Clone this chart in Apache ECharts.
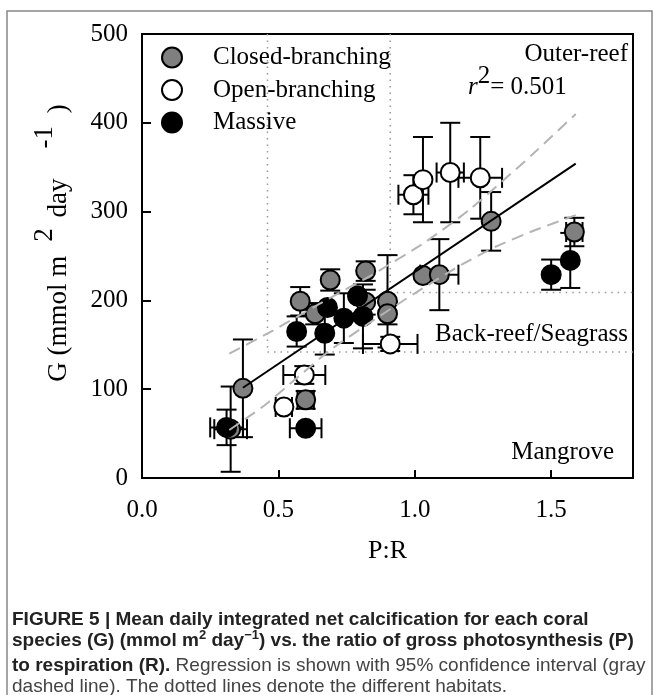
<!DOCTYPE html>
<html>
<head>
<meta charset="utf-8">
<script src="https://cdn.jsdelivr.net/npm/echarts@6/dist/echarts.min.js"></script>
<style>
  html, body { margin: 0; padding: 0; background: #fff; }
  #main { width: 654px; height: 695px; }
</style>
</head>
<body>
<div id="main"></div>
<script>
// rows: [P:R, G, yErr, xErr]
var closedBranching = [
  [0.325, 55, 48, 0.06],
  [0.37, 101, 55, 0],
  [0.58, 199, 16, 0],
  [0.60, 88, 10, 0.03],
  [0.635, 185, 12, 0],
  [0.69, 223, 12, 0],
  [0.82, 233, 11, 0],
  [0.82, 198, 14, 0],
  [0.90, 199, 52, 0],
  [0.90, 185, 12, 0],
  [1.03, 228, 0, 0],
  [1.09, 229, 40, 0.07],
  [1.28, 289, 33, 0],
  [1.585, 277, 16, 0.03]
];
var openBranching = [
  [0.52, 80, 0, 0.03],
  [0.595, 116, 10, 0.077],
  [0.91, 151, 8, 0.1],
  [0.995, 319, 22, 0.055],
  [1.03, 336, 48, 0],
  [1.13, 344, 56, 0.05],
  [1.24, 338, 46, 0.08]
];
var massive = [
  [0.31, 57, 20, 0.06],
  [0.60, 56, 0, 0.058],
  [0.567, 165, 17, 0],
  [0.67, 163, 24, 0],
  [0.68, 192, 0, 0],
  [0.74, 180, 28, 0],
  [0.81, 182, 36, 0],
  [0.79, 205, 0, 0],
  [1.50, 229, 17, 0],
  [1.57, 245, 31, 0]
];

// regression and 95% CI
var regLine = [[0.37, 101.6], [1.59, 354]];
var ciUpper = [[0.32, 140], [0.48, 166], [0.65, 196], [0.85, 230], [1.04, 266], [1.2, 302], [1.43, 364], [1.59, 410]];
var ciLower = [[0.32, 54], [0.45, 82], [0.55, 108], [0.69, 144], [0.85, 178], [1.0, 208], [1.17, 240], [1.3, 261], [1.44, 279], [1.59, 296]];

// habitat boundaries (dotted)
var habitatLines = [
  [[0.46, 500], [0.46, 142]],
  [[0.46, 142], [1.8, 142]],
  [[0.91, 500], [0.91, 209]],
  [[0.91, 209], [1.8, 209]]
];

var xTicks = [0, 0.5, 1.0, 1.5];
var yTicks = [0, 100, 200, 300, 400, 500];

var serif = '"Liberation Serif", "Times New Roman", serif';
var sans = '"Liberation Sans", Arial, sans-serif';

function errorBars(rows, name) {
  return {
    type: 'custom',
    name: name + ' err',
    silent: true,
    z: 2,
    data: rows,
    encode: { x: 0, y: 1 },
    renderItem: function (params, api) {
      var x = api.value(0), y = api.value(1), ey = api.value(2), ex = api.value(3);
      var c = api.coord([x, y]);
      var kids = [];
      var st = { stroke: '#000', lineWidth: 2 };
      var cap = 10;
      if (ey > 0) {
        var top = api.coord([x, y + ey]), bot = api.coord([x, y - ey]);
        kids.push({ type: 'line', shape: { x1: c[0], y1: top[1], x2: c[0], y2: bot[1] }, style: st });
        kids.push({ type: 'line', shape: { x1: c[0] - cap, y1: top[1], x2: c[0] + cap, y2: top[1] }, style: st });
        kids.push({ type: 'line', shape: { x1: c[0] - cap, y1: bot[1], x2: c[0] + cap, y2: bot[1] }, style: st });
      }
      if (ex > 0) {
        var l = api.coord([x - ex, y]), r = api.coord([x + ex, y]);
        kids.push({ type: 'line', shape: { x1: l[0], y1: c[1], x2: r[0], y2: c[1] }, style: st });
        kids.push({ type: 'line', shape: { x1: l[0], y1: c[1] - cap, x2: l[0], y2: c[1] + cap }, style: st });
        kids.push({ type: 'line', shape: { x1: r[0], y1: c[1] - cap, x2: r[0], y2: c[1] + cap }, style: st });
      }
      return { type: 'group', children: kids };
    }
  };
}

function points(rows, name, fill) {
  return {
    type: 'scatter',
    name: name,
    z: 3,
    symbol: 'circle',
    symbolSize: 19,
    data: rows.map(function (r) { return [r[0], r[1]]; }),
    itemStyle: { color: fill, borderColor: '#000', borderWidth: 2, opacity: 1 },
    emphasis: { disabled: true }
  };
}

var series = [];
habitatLines.forEach(function (seg) {
  series.push({
    type: 'line', data: seg, symbol: 'none', silent: true, z: 1,
    lineStyle: { color: '#999', width: 1.5, type: [1.5, 5] }
  });
});
series.push(errorBars(closedBranching, 'Closed-branching'));
series.push(errorBars(openBranching, 'Open-branching'));
series.push(errorBars(massive, 'Massive'));
series.push(points(closedBranching, 'Closed-branching', '#7f7f7f'));
series.push(points(massive, 'Massive', '#000'));
series.push(points(openBranching, 'Open-branching', '#fff'));
series.push({
  type: 'line', data: ciUpper, symbol: 'none', silent: true, z: 4, smooth: 0.2,
  lineStyle: { color: '#b4b4b4', width: 2, type: [12, 7] }
});
series.push({
  type: 'line', data: ciLower, symbol: 'none', silent: true, z: 4, smooth: 0.2,
  lineStyle: { color: '#b4b4b4', width: 2, type: [12, 7] }
});
series.push({
  type: 'line', data: regLine, symbol: 'none', silent: true, z: 4,
  lineStyle: { color: '#000', width: 2 }
});

var chart = echarts.init(document.getElementById('main'));
chart.setOption({
  animation: false,
  backgroundColor: '#fff',
  grid: { left: 142, top: 34, width: 491, height: 444, show: true, borderColor: '#000', borderWidth: 2 },
  legend: {
    data: ['Closed-branching', 'Open-branching', 'Massive'],
    orient: 'vertical',
    left: 156, top: 40,
    itemWidth: 20, itemHeight: 20, itemGap: 7.5,
    icon: 'circle',
    selectedMode: false,
    textStyle: { fontFamily: serif, fontSize: 25, color: '#000', padding: [0, 0, 0, 26] }
  },
  xAxis: {
    type: 'value', min: 0, max: 1.8, interval: 0.5,
    name: 'P:R', nameLocation: 'middle', nameGap: 60,
    nameTextStyle: { fontFamily: serif, fontSize: 26, color: '#000' },
    axisLine: { lineStyle: { color: '#000', width: 2 } },
    axisTick: { inside: true, length: 8, lineStyle: { color: '#000', width: 2 } },
    axisLabel: {
      fontFamily: serif, fontSize: 25, color: '#000', margin: 20, showMaxLabel: false,
      formatter: function (v) { return xTicks.indexOf(v) >= 0 ? v.toFixed(1) : ''; }
    },
    splitLine: { show: false }
  },
  yAxis: {
    type: 'value', min: 0, max: 500, interval: 100,
    name: '{n|G (mmol m}{a|2}{n| day}{b|-1}{n| )}', nameLocation: 'middle', nameGap: 56,
    nameTextStyle: {
      fontFamily: serif, fontSize: 27, color: '#000', padding: [0, 0, 0, 26],
      rich: {
        n: { fontFamily: serif, fontSize: 27, color: '#000' },
        a: { fontFamily: serif, fontSize: 27, color: '#000', padding: [0, 4, 28, 14] },
        b: { fontFamily: serif, fontSize: 27, color: '#000', padding: [0, 6, 28, 30] }
      }
    },
    axisLine: { lineStyle: { color: '#000', width: 2 } },
    axisTick: { inside: true, length: 9, lineStyle: { color: '#000', width: 2 } },
    axisLabel: {
      fontFamily: serif, fontSize: 25, color: '#000', margin: 14,
      formatter: function (v) { return yTicks.indexOf(v) >= 0 ? String(v) : ''; }
    },
    splitLine: { show: false }
  },
  graphic: [
    { type: 'rect', shape: { x: 7, y: 11, width: 645, height: 720 }, style: { fill: 'none', stroke: '#888', lineWidth: 1.5 }, silent: true },
    { type: 'text', right: 26, top: 42, style: { text: 'Outer-reef', font: '25px ' + serif, fill: '#000' } },
    {
      type: 'text', left: 468, top: 64,
      style: {
        text: '{i|r}{s|2}{n|= 0.501}',
        rich: {
          i: { font: 'italic 25px ' + serif, fill: '#000' },
          s: { font: '25px ' + serif, fill: '#000', padding: [0, 0, 22, 0] },
          n: { font: '25px ' + serif, fill: '#000' }
        }
      }
    },
    { type: 'text', right: 26, top: 322, style: { text: 'Back-reef/Seagrass', font: '25px ' + serif, fill: '#000' } },
    { type: 'text', right: 40, top: 440, style: { text: 'Mangrove', font: '25px ' + serif, fill: '#000' } },
    {
      type: 'text', left: 12, top: 610,
      style: { text: 'FIGURE 5 | Mean daily integrated net calcification for each coral', font: 'bold 19px ' + sans, fill: '#222' }
    },
    {
      type: 'text', left: 12, top: 629,
      style: {
        text: '{b|species (G) (mmol m}{s|2}{b| day}{s|\u22121}{b|) vs. the ratio of gross photosynthesis (P)}',
        rich: {
          b: { font: 'bold 19px ' + sans, fill: '#222' },
          s: { font: 'bold 13px ' + sans, fill: '#222', padding: [0, 0, 11, 0] }
        }
      }
    },
    {
      type: 'text', left: 12, top: 656,
      style: {
        text: '{b|to respiration (R).}{r| Regression is shown with 95% confidence interval (gray}',
        rich: {
          b: { font: 'bold 19px ' + sans, fill: '#222' },
          r: { font: '19px ' + sans, fill: '#444' }
        }
      }
    },
    { type: 'text', left: 12, top: 677, style: { text: 'dashed line). The dotted lines denote the different habitats.', font: '19px ' + sans, fill: '#444' } }
  ],
  series: series
});
</script>
</body>
</html>
